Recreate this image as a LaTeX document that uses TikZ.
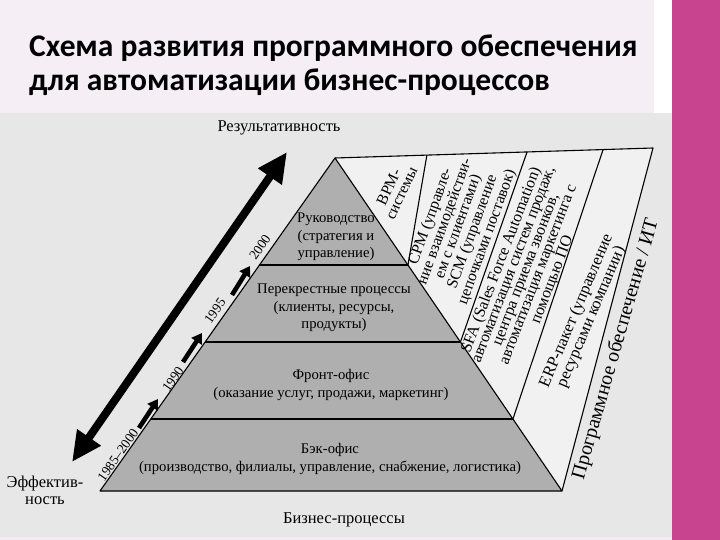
\documentclass[tikz,border=0pt]{standalone}
\usepackage{fontspec}
\setmainfont{Liberation Serif}
\newfontfamily\titlefont{Carlito}
\usetikzlibrary{arrows.meta,calc}

\definecolor{titlebg}{HTML}{F5EEF5}
\definecolor{scanbg}{HTML}{E7E7E7}
\definecolor{bandbg}{HTML}{F1F1F1}
\definecolor{pyrgray}{HTML}{AFAFAF}
\definecolor{sidebar}{HTML}{C8448F}

\begin{document}
\begin{tikzpicture}[x=1pt, y=-1pt,
    titletext/.style={font=\titlefont\bfseries\fontsize{31.5}{36}\selectfont, anchor=base west, inner sep=0pt},
    level/.style={font=\fontsize{14.7}{17.5}\selectfont, align=center, inner sep=0pt},
    bandtext/.style={font=\fontsize{15.8}{14.2}\selectfont, align=center, inner sep=0pt},
    axislabel/.style={font=\fontsize{16.5}{17}\selectfont, align=center, inner sep=0pt},
    yearlabel/.style={font=\fontsize{13.5}{14}\selectfont, rotate=55, inner sep=0pt},
    outline/.style={line width=1.1pt, line join=round},
    yeararrow/.style={line width=4.6pt, -{Triangle[length=10pt, width=12pt]}}]
    \useasboundingbox (0,0) rectangle (720,540);

    % page
    \fill[scanbg] (0,0) rectangle (672,540);
    \fill[white] (654,0) rectangle (672,113);
    \fill[titlebg] (0,0) rectangle (654,113);
    \fill[sidebar] (672,0) rectangle (720,540);
    \fill[titlebg!80!sidebar!40] (0,537) rectangle (672,540);

    \node[titletext] (title1) at (29,57) {Схема развития программного обеспечения};
    \node[titletext] (title2) at (29,91) {для автоматизации бизнес-процессов};

    % pyramid
    \coordinate (apex) at (335,158);
    \coordinate (bl) at (100,491);
    \coordinate (br) at (562,491);
    \coordinate (tr) at (653,148);

    \fill[bandbg] (apex) -- (tr) -- (br) -- cycle;
    \fill[pyrgray] (apex) -- (bl) -- (br) -- cycle;

    \foreach \f in {0.3213, 0.5526, 0.7838}
      \draw[outline] ($(apex)!\f!(bl)$) -- ($(apex)!\f!(br)$);
    \draw[outline] (apex) -- (bl) -- (br) -- cycle;
    \draw[outline] (apex) -- (tr) -- (br);

    \draw[outline] ($(apex)!0.289!(tr)$) -- ($(apex)!0.3213!(br)$);
    \draw[outline] ($(apex)!0.604!(tr)$) -- ($(apex)!0.5526!(br)$);
    \draw[outline] ($(apex)!0.843!(tr)$) -- ($(apex)!0.7838!(br)$);

    \node[level] (top) at (336,237) {Руководство\\(стратегия и\\управление)};
    \node[level] (cross) at (334,308) {Перекрестные процессы\\(клиенты, ресурсы,\\продукты)};
    \node[level] (front) at (331,385) {Фронт-офис\\(оказание услуг, продажи, маркетинг)};
    \node[level] (back) at (330,459) {Бэк-офис\\(производство, филиалы, управление, снабжение, логистика)};

    \node[bandtext, font=\fontsize{15.5}{14}\selectfont, rotate=65] (bpm) at (395,190) {BPM-\\системы};
    \node[bandtext, rotate=70] (crm) at (459,227)
      {CPM (управле-\\ние взаимодействи-\\ем с клиентами)\\SCM (управление\\цепочками поставок)};
    \node[bandtext, font=\fontsize{16}{13.2}\selectfont, rotate=69] (sfa) at (527,270)
      {SFA (Sales Force Automation)\\автоматизация систем продаж,\\центра приема звонков,\\автоматизация маркетинга с\\помощью ПО};
    \node[bandtext, font=\fontsize{16.5}{14.5}\selectfont, rotate=67] (erp) at (584,314)
      {ERP-пакет (управление\\ресурсами компании)};
    \node[axislabel, font=\fontsize{20}{22}\selectfont, rotate=74] (soft) at (616,349)
      {Программное обеспечение / ИТ};

    % axes
    \node[axislabel] (result) at (279,128) {Результативность};
    \node[axislabel] (effect) at (45,490) {Эффектив-\\ность};
    \node[axislabel] (bp) at (344,520) {Бизнес-процессы};

    \coordinate (low) at (72,462);
    \coordinate (high) at (287,152);
    \draw[line width=8pt, {Triangle[length=30pt, width=27pt]}-{Triangle[length=30pt, width=27pt]}]
      (low) -- (high);

    \node[yearlabel] (y85) at (118,455) {1985--2000};
    \node[yearlabel] (y90) at (173,379) {1990};
    \node[yearlabel] (y95) at (215,311) {1995};
    \node[yearlabel] (y00) at (260,247) {2000};

    \draw[yeararrow] (139,428) -- (158,399);
    \draw[yeararrow] (183,362) -- (202,333);
    \draw[yeararrow] (232,295) -- (250,266);
\end{tikzpicture}
\end{document}
